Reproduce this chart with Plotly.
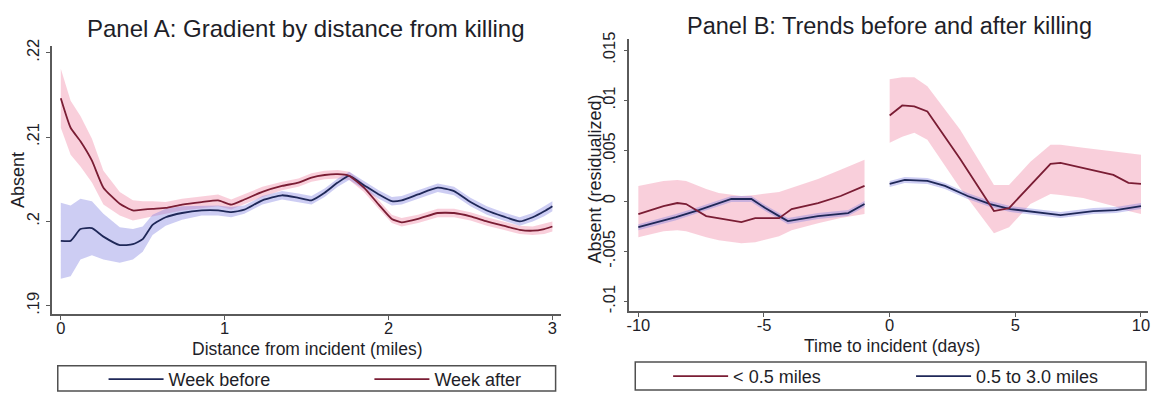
import plotly.graph_objects as go

W, H = 1158, 398

# ---- Panel A: absence rate by distance from the incident ----
dist_miles = [0, 0.06, 0.12, 0.19, 0.26, 0.36, 0.44, 0.5, 0.56, 0.64, 0.74, 0.86, 0.96,
              1.04, 1.12, 1.23, 1.35, 1.45, 1.53, 1.61, 1.69, 1.76, 1.85, 1.94, 2.02,
              2.08, 2.18, 2.30, 2.40, 2.5, 2.6, 2.7, 2.8, 2.88, 2.95, 3.0]
week_before = [0.1977, 0.1977, 0.1991, 0.1992, 0.1982, 0.1972, 0.1973, 0.1979, 0.1996,
               0.2005, 0.2010, 0.2013, 0.2013, 0.2011, 0.2014, 0.2025, 0.2031, 0.2028,
               0.2025, 0.2034, 0.2046, 0.2054, 0.2043, 0.2032, 0.2024, 0.2025, 0.2032,
               0.2040, 0.2036, 0.2023, 0.2013, 0.2006, 0.2000, 0.2005, 0.2012, 0.2018]
week_before_ci = [0.0045, 0.0042, 0.0036, 0.0032, 0.0027, 0.0021, 0.0018, 0.0015, 0.0012,
                  0.0010, 0.0008, 0.0006, 0.0006, 0.0006, 0.0005, 0.0005, 0.0005, 0.0005,
                  0.0005, 0.0005, 0.0005, 0.0005, 0.0005, 0.0005, 0.0005, 0.0005, 0.0005,
                  0.0005, 0.0005, 0.0005, 0.0005, 0.0005, 0.0005, 0.0005, 0.0006, 0.0006]
week_after = [0.2146, 0.2111, 0.2095, 0.2072, 0.2040, 0.2021, 0.2013, 0.2014, 0.2015,
              0.2016, 0.2020, 0.2023, 0.2025, 0.2020, 0.2026, 0.2035, 0.2042, 0.2046,
              0.2052, 0.2055, 0.2056, 0.2054, 0.2040, 0.2020, 0.2003, 0.1999, 0.2003,
              0.2010, 0.2010, 0.2006, 0.2000, 0.1995, 0.1990, 0.1989, 0.1991, 0.1994]
week_after_ci = [0.0035, 0.0032, 0.0030, 0.0026, 0.0020, 0.0014, 0.0012, 0.0010, 0.0009,
                 0.0007, 0.0007, 0.0007, 0.0007, 0.0006, 0.0006, 0.0006, 0.0005, 0.0005,
                 0.0005, 0.0005, 0.0005, 0.0005, 0.0005, 0.0005, 0.0005, 0.0005, 0.0005,
                 0.0005, 0.0005, 0.0005, 0.0005, 0.0005, 0.0005, 0.0005, 0.0006, 0.0006]
a_xticks = [0, 1, 2, 3]
a_xticklabels = ["0", "1", "2", "3"]
a_yticks = [0.19, 0.20, 0.21, 0.22]
a_yticklabels = [".19", ".2", ".21", ".22"]

# ---- Panel B: residualized absence around the incident date ----
near_pre_days = [-10, -9, -8.45, -8.1, -7.3, -6.8, -5.9, -5.35, -4.4, -3.9, -2.85, -1.95, -1]
near_pre = [-0.0013, -0.0005, -0.0002, -0.0003, -0.0015, -0.0017, -0.0021, -0.0017,
            -0.0017, -0.0008, -0.0002, 0.0005, 0.0015]
near_pre_lo = [-0.0036, -0.0030, -0.0029, -0.0030, -0.0036, -0.0039, -0.0042, -0.0041,
               -0.0035, -0.0029, -0.0022, -0.0017, -0.0013]
near_pre_hi = [0.0015, 0.0020, 0.0021, 0.0020, 0.0012, 0.0008, 0.0005, 0.0006,
               0.0009, 0.0013, 0.0022, 0.0031, 0.0041]
near_post_days = [0, 0.5, 0.98, 1.5, 2.8, 4.15, 4.75, 5.6, 6.4, 6.8, 7.7, 8.9, 9.5, 10]
near_post = [0.0085, 0.0095, 0.0094, 0.0089, 0.0042, -0.0010, -0.0007, 0.0016, 0.0037,
             0.0038, 0.0033, 0.0026, 0.0018, 0.0017]
near_post_lo = [0.0058, 0.0064, 0.0068, 0.0061, 0.0013, -0.0032, -0.0026, -0.0003, 0.0007,
                0.0006, 0.0003, -0.0005, -0.0010, -0.0013]
near_post_hi = [0.0121, 0.0123, 0.0123, 0.0114, 0.0071, 0.0016, 0.0016, 0.0039, 0.0056,
                0.0056, 0.0053, 0.0049, 0.0047, 0.0046]
far_pre_days = [-10, -8.5, -7.6, -6.9, -6.3, -5.5, -4.95, -4.4, -4.05, -2.85, -1.65, -1]
far_pre = [-0.0026, -0.0016, -0.0009, -0.0003, 0.0002, 0.0002, -0.0007, -0.0015, -0.0020,
           -0.0015, -0.0012, -0.0003]
far_pre_ci = [0.0003] * 12
far_post_days = [0, 0.6, 1.5, 2.2, 3.1, 4.0, 4.8, 5.7, 6.8, 8.1, 9.0, 10]
far_post = [0.0017, 0.0021, 0.0020, 0.0015, 0.0005, -0.0003, -0.0008, -0.0011, -0.0014,
            -0.0010, -0.0009, -0.0005]
far_post_ci = [0.0003] * 12
b_xticks = [-10, -5, 0, 5, 10]
b_xticklabels = ["-10", "-5", "0", "5", "10"]
b_yticks = [-0.01, -0.005, 0, 0.005, 0.01, 0.015]
b_yticklabels = ["-.01", "-.005", "0", ".005", ".01", ".015"]

FONT = "Arial, Liberation Sans, sans-serif"
TXT = "#1e1e28"
RED = "#7a1d34"
NAVY = "#1f2858"
PINK_FILL = "rgba(240,140,170,0.42)"
BLUE_FILL = "rgba(130,130,225,0.40)"
AXIS = "#5a5a5a"


def px_x(x):
    return x / W


def px_y(y):
    return 1 - y / H


def band(x, lo, hi, fill, xa, ya):
    return go.Scatter(x=list(x) + list(x)[::-1], y=list(hi) + list(lo)[::-1],
                      fill="toself", fillcolor=fill, line=dict(width=0),
                      mode="lines", hoverinfo="skip", showlegend=False,
                      xaxis=xa, yaxis=ya)


fig = go.Figure()

# Panel A bands
fig.add_trace(band(dist_miles,
                   [m - h for m, h in zip(week_after, week_after_ci)],
                   [m + h for m, h in zip(week_after, week_after_ci)],
                   PINK_FILL, "x", "y"))
fig.add_trace(band(dist_miles,
                   [m - h for m, h in zip(week_before, week_before_ci)],
                   [m + h for m, h in zip(week_before, week_before_ci)],
                   BLUE_FILL, "x", "y"))
# Panel A lines
fig.add_trace(go.Scatter(x=dist_miles, y=week_before, mode="lines", name="Week before",
                         line=dict(color=NAVY, width=1.8, shape="spline", smoothing=0.5),
                         legend="legend", xaxis="x", yaxis="y"))
fig.add_trace(go.Scatter(x=dist_miles, y=week_after, mode="lines", name="Week after",
                         line=dict(color=RED, width=1.8, shape="spline", smoothing=0.5),
                         legend="legend2", xaxis="x", yaxis="y"))

# Panel B bands
fig.add_trace(band(near_pre_days, near_pre_lo, near_pre_hi, PINK_FILL, "x2", "y2"))
fig.add_trace(band(near_post_days, near_post_lo, near_post_hi, PINK_FILL, "x2", "y2"))
fig.add_trace(band(far_pre_days,
                   [m - h for m, h in zip(far_pre, far_pre_ci)],
                   [m + h for m, h in zip(far_pre, far_pre_ci)], BLUE_FILL, "x2", "y2"))
fig.add_trace(band(far_post_days,
                   [m - h for m, h in zip(far_post, far_post_ci)],
                   [m + h for m, h in zip(far_post, far_post_ci)], BLUE_FILL, "x2", "y2"))
# Panel B lines
fig.add_trace(go.Scatter(x=far_pre_days, y=far_pre, mode="lines", name="0.5 to 3.0 miles",
                         line=dict(color=NAVY, width=1.8), legend="legend4",
                         xaxis="x2", yaxis="y2"))
fig.add_trace(go.Scatter(x=far_post_days, y=far_post, mode="lines", showlegend=False,
                         line=dict(color=NAVY, width=1.8), xaxis="x2", yaxis="y2"))
fig.add_trace(go.Scatter(x=near_pre_days, y=near_pre, mode="lines", name="< 0.5 miles",
                         line=dict(color=RED, width=1.8), legend="legend3",
                         xaxis="x2", yaxis="y2"))
fig.add_trace(go.Scatter(x=near_post_days, y=near_post, mode="lines", showlegend=False,
                         line=dict(color=RED, width=1.8), xaxis="x2", yaxis="y2"))

axis_common = dict(showline=True, linecolor=AXIS, linewidth=1.5, ticks="outside",
                   ticklen=4, tickcolor=AXIS, tickwidth=1.2, showgrid=False,
                   zeroline=False, tickfont=dict(family=FONT, size=16.5, color=TXT))

legend_common = dict(bgcolor="rgba(0,0,0,0)", borderwidth=0, orientation="h",
                     xanchor="left", yanchor="middle", itemwidth=55,
                     font=dict(family=FONT, size=18, color=TXT))

fig.update_layout(
    width=W, height=H, margin=dict(l=0, r=0, t=0, b=0),
    paper_bgcolor="white", plot_bgcolor="white",
    xaxis=dict(domain=[px_x(49), px_x(560)], range=[-0.055, 3.05], anchor="y",
               tickvals=a_xticks, ticktext=a_xticklabels, ticklabelstandoff=-6,
               **axis_common),
    yaxis=dict(domain=[px_y(316), px_y(40)], range=[0.1890, 0.2208], anchor="x",
               tickvals=a_yticks, ticktext=a_yticklabels, tickangle=-90, **axis_common),
    xaxis2=dict(domain=[px_x(629), px_x(1150)], range=[-10.36, 10.28], anchor="y2",
                tickvals=b_xticks, ticktext=b_xticklabels, ticklabelstandoff=-6,
                **axis_common),
    yaxis2=dict(domain=[px_y(313), px_y(33)], range=[-0.01097, 0.0161], anchor="x2",
                tickvals=b_yticks, ticktext=b_yticklabels, tickangle=-90,
                ticklabelstandoff=2, **axis_common),
    legend=dict(x=px_x(101), y=px_y(383), **legend_common),
    legend2=dict(x=px_x(368), y=px_y(383), **legend_common),
    legend3=dict(x=px_x(668), y=px_y(380), **legend_common),
    legend4=dict(x=px_x(912), y=px_y(380), **legend_common),
    showlegend=True,
)

# legend frames
for x0, x1, y0, y1 in [(55, 555, 369, 395), (635, 1148, 365, 394)]:
    fig.add_shape(type="rect", xref="paper", yref="paper",
                  x0=px_x(x0), x1=px_x(x1), y0=px_y(y1), y1=px_y(y0),
                  line=dict(color="#505050", width=1.5), fillcolor="rgba(0,0,0,0)")

texts = [
    ("Panel A: Gradient by distance from killing", 304, 22, 24, 0),
    ("Panel B: Trends before and after killing", 890, 20, 23.5, 0),
    ("Distance from incident (miles)", 305, 352, 17.5, 0),
    ("Time to incident (days)", 893, 349, 17.5, 0),
    ("Absent", 15, 178, 18, -90),
    ("Absent (residualized)", 595, 177, 18, -90),
]
for t, x, y, s, ang in texts:
    fig.add_annotation(text=t, x=px_x(x), y=px_y(y), xref="paper", yref="paper",
                       xanchor="center", yanchor="middle", showarrow=False,
                       textangle=ang, font=dict(family=FONT, size=s, color=TXT))

fig.write_html("out.html")
